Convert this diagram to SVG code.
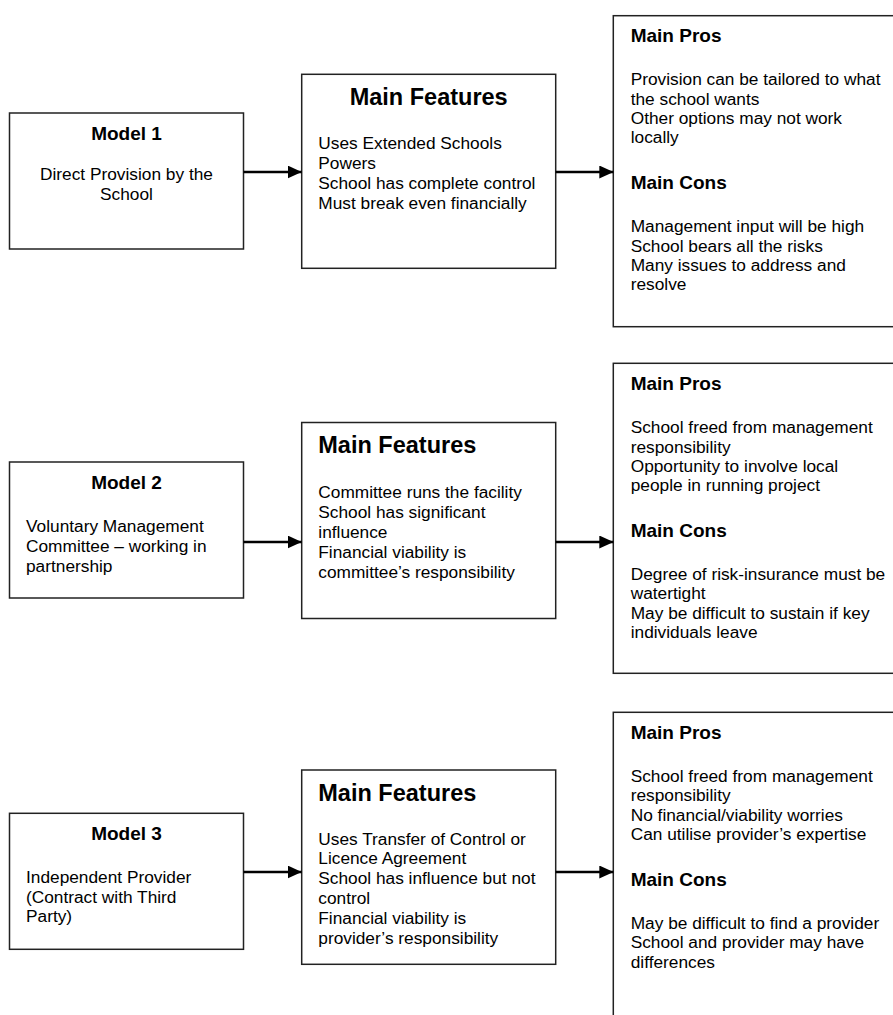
<svg xmlns="http://www.w3.org/2000/svg" width="893" height="1015" viewBox="0 0 893 1015">
<style>
.box{fill:#fff;stroke:#222;stroke-width:1.5}
text{font-family:"Liberation Sans",Arial,sans-serif;fill:#000}
.b{font-size:17.3px}
.h{font-size:19px;font-weight:bold}
.t{font-size:23.5px;font-weight:bold}
.c{text-anchor:middle}
.arr{stroke:#000;stroke-width:2.6;fill:none;marker-end:url(#ah)}
</style>
<defs>
<marker id="ah" markerUnits="userSpaceOnUse" markerWidth="14" markerHeight="13" refX="14" refY="6.5" orient="auto">
<path d="M0,0 L14,6.5 L0,13 z" fill="#000"/>
</marker>
</defs>
<rect width="893" height="1015" fill="#fff"/>

<g id="model1">
<rect class="box" x="9.5" y="113" width="234" height="136"/>
<text class="h c" x="126.5" y="140">Model 1</text>
<text class="b c" x="126.5" y="180.3">Direct Provision by the</text>
<text class="b c" x="126.5" y="200.3">School</text>
</g>
<g id="features1">
<rect class="box" x="301.7" y="74.3" width="254" height="194"/>
<text class="t c" x="428.7" y="105">Main Features</text>
<text class="b" x="318.3" y="149">Uses Extended Schools</text>
<text class="b" x="318.3" y="169">Powers</text>
<text class="b" x="318.3" y="189">School has complete control</text>
<text class="b" x="318.3" y="209">Must break even financially</text>
</g>
<g id="proscons1">
<rect class="box" x="613.3" y="15.7" width="300" height="311"/>
<text class="h" x="630.7" y="42.3">Main Pros</text>
<text class="b" x="630.7" y="85.3">Provision can be tailored to what</text>
<text class="b" x="630.7" y="104.7">the school wants</text>
<text class="b" x="630.7" y="124">Other options may not work</text>
<text class="b" x="630.7" y="143.3">locally</text>
<text class="h" x="630.7" y="189.3">Main Cons</text>
<text class="b" x="630.7" y="232.3">Management input will be high</text>
<text class="b" x="630.7" y="251.7">School bears all the risks</text>
<text class="b" x="630.7" y="271">Many issues to address and</text>
<text class="b" x="630.7" y="290.3">resolve</text>
</g>

<g id="model2">
<rect class="box" x="9.5" y="462" width="234" height="136"/>
<text class="h c" x="126.5" y="489">Model 2</text>
<text class="b" x="26" y="531.5">Voluntary Management</text>
<text class="b" x="26" y="551.5">Committee – working in</text>
<text class="b" x="26" y="571.5">partnership</text>
</g>
<g id="features2">
<rect class="box" x="301.7" y="422.5" width="254" height="196"/>
<text class="t" x="318.3" y="453">Main Features</text>
<text class="b" x="318.3" y="497.5">Committee runs the facility</text>
<text class="b" x="318.3" y="517.7">School has significant</text>
<text class="b" x="318.3" y="537.9">influence</text>
<text class="b" x="318.3" y="558.1">Financial viability is</text>
<text class="b" x="318.3" y="578.3">committee’s responsibility</text>
</g>
<g id="proscons2">
<rect class="box" x="613.3" y="363.3" width="300" height="310"/>
<text class="h" x="630.7" y="390">Main Pros</text>
<text class="b" x="630.7" y="433.2">School freed from management</text>
<text class="b" x="630.7" y="452.6">responsibility</text>
<text class="b" x="630.7" y="472">Opportunity to involve local</text>
<text class="b" x="630.7" y="491.4">people in running project</text>
<text class="h" x="630.7" y="537.2">Main Cons</text>
<text class="b" x="630.7" y="580">Degree of risk-insurance must be</text>
<text class="b" x="630.7" y="599.4">watertight</text>
<text class="b" x="630.7" y="619">May be difficult to sustain if key</text>
<text class="b" x="630.7" y="638.4">individuals leave</text>
</g>

<g id="model3">
<rect class="box" x="9.5" y="813.3" width="234" height="136"/>
<text class="h c" x="126.5" y="840">Model 3</text>
<text class="b" x="26" y="882.7">Independent Provider</text>
<text class="b" x="26" y="902.6">(Contract with Third</text>
<text class="b" x="26" y="922.4">Party)</text>
</g>
<g id="features3">
<rect class="box" x="301.7" y="770" width="254" height="194.3"/>
<text class="t" x="318.3" y="800.5">Main Features</text>
<text class="b" x="318.3" y="844.5">Uses Transfer of Control or</text>
<text class="b" x="318.3" y="864.4">Licence Agreement</text>
<text class="b" x="318.3" y="884.3">School has influence but not</text>
<text class="b" x="318.3" y="904.2">control</text>
<text class="b" x="318.3" y="924.1">Financial viability is</text>
<text class="b" x="318.3" y="944">provider’s responsibility</text>
</g>
<g id="proscons3">
<rect class="box" x="613.3" y="712.3" width="300" height="330"/>
<text class="h" x="630.7" y="738.9">Main Pros</text>
<text class="b" x="630.7" y="781.9">School freed from management</text>
<text class="b" x="630.7" y="801.3">responsibility</text>
<text class="b" x="630.7" y="820.6">No financial/viability worries</text>
<text class="b" x="630.7" y="839.9">Can utilise provider’s expertise</text>
<text class="h" x="630.7" y="885.9">Main Cons</text>
<text class="b" x="630.7" y="928.9">May be difficult to find a provider</text>
<text class="b" x="630.7" y="948.3">School and provider may have</text>
<text class="b" x="630.7" y="967.6">differences</text>
</g>

<g id="connectors">
<line class="arr" x1="243.5" y1="172" x2="301.7" y2="172"/>
<line class="arr" x1="555.7" y1="172" x2="613.3" y2="172"/>
<line class="arr" x1="243.5" y1="542" x2="301.7" y2="542"/>
<line class="arr" x1="555.7" y1="542" x2="613.3" y2="542"/>
<line class="arr" x1="243.5" y1="872" x2="301.7" y2="872"/>
<line class="arr" x1="555.7" y1="872" x2="613.3" y2="872"/>
</g>
</svg>
